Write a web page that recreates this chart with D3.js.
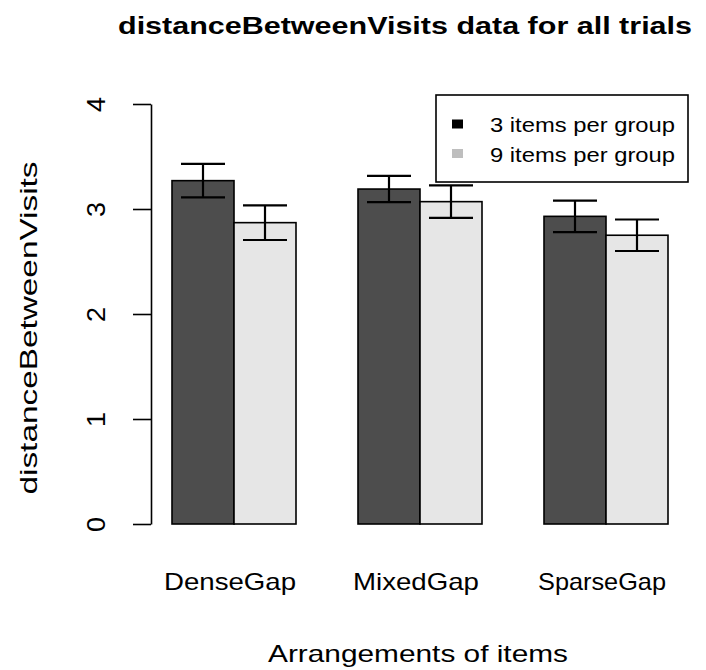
<!DOCTYPE html>
<html>
<head>
<meta charset="utf-8">
<script src="https://cdn.jsdelivr.net/npm/d3@7"></script>
<style>
  html, body { margin: 0; padding: 0; background: #fff; }
  text { font-family: "Liberation Sans", Arial, sans-serif; fill: #000; }
</style>
</head>
<body>
<script>
// Mean distance between visits per arrangement, for two group sizes
const categories = ["DenseGap", "MixedGap", "SparseGap"];
const seriesNames = ["3 items per group", "9 items per group"];
const means3 = [3.27, 3.19, 2.93];
const means9 = [2.87, 3.07, 2.75];
const err3 = [0.16, 0.125, 0.15];
const err9 = [0.165, 0.155, 0.15];
const yTicks = [0, 1, 2, 3, 4];

const W = 706, H = 670;
const svg = d3.select("body").append("svg")
  .attr("width", W).attr("height", H);

// Bar positions in barplot units: each group has 2 bars of width 1, groups separated by 1
const x = d3.scaleLinear().domain([0, 9]).range([110, 668]);
const y = d3.scaleLinear().domain([0, 4]).range([524, 104]);

const barFill = ["#4d4d4d", "#e6e6e6"];
const legendFill = ["#000000", "#bebebe"];

const bars = [];
categories.forEach((c, i) => {
  const start = 1 + i * 3;
  bars.push({ u: start, v: means3[i], e: err3[i], s: 0 });
  bars.push({ u: start + 1, v: means9[i], e: err9[i], s: 1 });
});

svg.append("g").selectAll("rect").data(bars).join("rect")
  .attr("x", d => x(d.u))
  .attr("y", d => y(d.v))
  .attr("width", d => x(d.u + 1) - x(d.u))
  .attr("height", d => y(0) - y(d.v))
  .attr("fill", d => barFill[d.s])
  .attr("stroke", "#000")
  .attr("stroke-width", 1.6);

// Error bars
const capHalf = 22;
const eb = svg.append("g").attr("stroke", "#000").attr("stroke-width", 2.2);
bars.forEach(d => {
  const cx = x(d.u + 0.5);
  const top = y(d.v + d.e), bot = y(d.v - d.e);
  eb.append("line").attr("x1", cx).attr("x2", cx).attr("y1", top).attr("y2", bot);
  eb.append("line").attr("x1", cx - capHalf).attr("x2", cx + capHalf).attr("y1", top).attr("y2", top);
  eb.append("line").attr("x1", cx - capHalf).attr("x2", cx + capHalf).attr("y1", bot).attr("y2", bot);
});

// Y axis
const yAxis = d3.axisLeft(y).tickValues(yTicks).tickFormat(d3.format("d"))
  .tickSize(18).tickSizeOuter(0);
const gy = svg.append("g").attr("transform", "translate(151,0)").call(yAxis);
gy.select(".domain").attr("stroke", "#000").attr("stroke-width", 1.6);
gy.selectAll(".tick line").attr("stroke", "#000").attr("stroke-width", 1.6);
gy.selectAll(".tick text")
  .attr("x", null).attr("dy", null)
  .attr("transform", "translate(-46,0) rotate(-90)")
  .attr("text-anchor", "middle")
  .style("font-family", "'Liberation Sans', Arial, sans-serif")
  .style("font-size", "25px")
  .attr("fill", "#000")
  .attr("textLength", 15).attr("lengthAdjust", "spacingAndGlyphs");

// Category labels
const catWidths = [132, 126, 128];
svg.append("g").selectAll("text").data(categories).join("text")
  .attr("x", (d, i) => x(1 + i * 3 + 1) - 4)
  .attr("y", 590)
  .attr("text-anchor", "middle")
  .style("font-size", "24px")
  .attr("textLength", (d, i) => catWidths[i])
  .attr("lengthAdjust", "spacingAndGlyphs")
  .text(d => d);

// Titles
svg.append("text")
  .attr("x", 405).attr("y", 34)
  .attr("text-anchor", "middle")
  .style("font-size", "23px").style("font-weight", "bold")
  .attr("textLength", 574).attr("lengthAdjust", "spacingAndGlyphs")
  .text("distanceBetweenVisits data for all trials");

svg.append("text")
  .attr("x", 418).attr("y", 662)
  .attr("text-anchor", "middle")
  .style("font-size", "24px")
  .attr("textLength", 300).attr("lengthAdjust", "spacingAndGlyphs")
  .text("Arrangements of items");

svg.append("text")
  .attr("transform", "translate(37,328) rotate(-90)")
  .attr("text-anchor", "middle")
  .style("font-size", "24px")
  .attr("textLength", 333).attr("lengthAdjust", "spacingAndGlyphs")
  .text("distanceBetweenVisits");

// Legend
const lg = svg.append("g");
lg.append("rect")
  .attr("x", 436).attr("y", 95).attr("width", 252).attr("height", 87)
  .attr("fill", "#fff").attr("stroke", "#000").attr("stroke-width", 1.6);
seriesNames.forEach((s, i) => {
  const cy = 124 + i * 29.5;
  lg.append("rect")
    .attr("x", 452).attr("y", cy - 4.5).attr("width", 11).attr("height", 9)
    .attr("fill", legendFill[i]);
  lg.append("text")
    .attr("x", 490).attr("y", cy + 8)
    .style("font-size", "21px")
    .attr("textLength", 185).attr("lengthAdjust", "spacingAndGlyphs")
    .text(s);
});
</script>
</body>
</html>
